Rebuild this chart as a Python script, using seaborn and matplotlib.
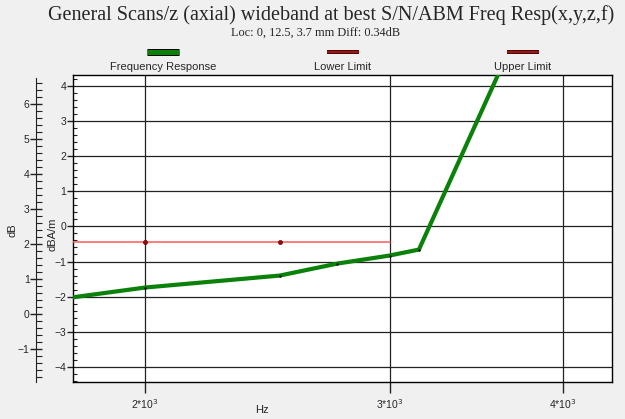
import matplotlib
matplotlib.use("Agg")
import matplotlib.pyplot as plt
import matplotlib.patheffects as pe
from matplotlib.lines import Line2D
from matplotlib.ticker import FixedLocator, FixedFormatter, MultipleLocator, NullLocator
import pandas as pd
import seaborn as sns

# frequency response (dBA/m)
freq_hz = [1750, 2000, 2500, 2750, 3000, 3150, 3600]
response_dba = [-2.05, -1.74, -1.40, -1.06, -0.83, -0.66, 4.40]

# lower limit line, markers only on the first two points
limit_freq_hz = [1750, 2000, 2500, 3000]
lower_limit_dba = [-0.45, -0.45, -0.45, -0.45]
limit_marker_freq = [2000, 2500]

x_ticks = [2000, 3000, 4000]
x_tick_labels = ["2*10$^3$", "3*10$^3$", "4*10$^3$"]
legend_names = ["Frequency Response", "Lower Limit", "Upper Limit"]

resp = pd.DataFrame({"Hz": freq_hz, "dBA/m": response_dba})
lower = pd.DataFrame({"Hz": limit_freq_hz, "dBA/m": lower_limit_dba})

sns.set_style("white")
plt.rcParams["font.family"] = ["Liberation Sans", "DejaVu Sans"]

fig = plt.figure(figsize=(6.25, 4.19), dpi=100, facecolor="#f0f0f0")
ax = fig.add_axes([73 / 625, 1 - 382 / 419, (612 - 73) / 625, (382 - 75) / 419])
ax.set_facecolor("white")

sns.lineplot(data=lower, x="Hz", y="dBA/m", ax=ax, color="#ff5a5a", linewidth=1.1, zorder=3)
sns.scatterplot(data=lower[lower["Hz"].isin(limit_marker_freq)], x="Hz", y="dBA/m", ax=ax,
                color="#b00000", edgecolor="black", s=10, zorder=4)
sns.lineplot(data=resp, x="Hz", y="dBA/m", ax=ax, color="#0a820a", linewidth=3.0, zorder=5)
sns.scatterplot(data=resp.iloc[1:-1], x="Hz", y="dBA/m", ax=ax, color="black", s=3,
                linewidth=0, zorder=6)

ax.set_xscale("log")
ax.set_xlim(1774, 4340)
ax.set_ylim(-4.43, 4.31)

ax.xaxis.set_major_locator(FixedLocator(x_ticks))
ax.xaxis.set_major_formatter(FixedFormatter(x_tick_labels))
ax.xaxis.set_minor_locator(NullLocator())
ax.yaxis.set_major_locator(MultipleLocator(1))
ax.yaxis.set_minor_locator(MultipleLocator(0.2))

ax.grid(True, which="major", color="#222222", linewidth=0.9)
ax.tick_params(axis="x", which="major", direction="out", length=8, width=1, bottom=True,
               labelsize=7.5, pad=3, color="#222222")
ax.tick_params(axis="y", which="major", direction="out", length=4, width=1, left=True,
               labelsize=7.5, pad=1, color="#222222")
ax.tick_params(axis="y", which="minor", direction="in", length=3, width=0.8,
               left=True, color="#222222")
for s in ax.spines.values():
    s.set_color("black")
    s.set_linewidth(1)

ax.set_xlabel("Hz", fontsize=8)
ax.xaxis.set_label_coords((262 - 73) / 539, -0.075)
ax.set_ylabel("dBA/m", fontsize=8)
ax.yaxis.set_label_coords(-(73 - 58) / 539, 0.48)

# outer dB axis
ax2 = fig.add_axes([36 / 625, 1 - 382 / 419, 0.0001, (382 - 78) / 419])
ax2.patch.set_alpha(0)
for k in ["top", "right", "bottom"]:
    ax2.spines[k].set_visible(False)
ax2.spines["left"].set_color("#222222")
ax2.set_ylim(-1.93, 6.73)
ax2.set_xticks([])
ax2.yaxis.set_major_locator(MultipleLocator(1))
ax2.yaxis.set_minor_locator(MultipleLocator(0.2))
ax2.tick_params(axis="y", which="major", direction="inout", length=9, width=1, left=True,
                labelsize=7.5, pad=0, color="#222222")
ax2.tick_params(axis="y", which="minor", direction="in", length=4, width=0.8, left=True,
                color="#222222")
ax2.set_ylabel("dB", fontsize=8)
ax2.yaxis.set_label_coords(-18 / 0.0001 / 625, 0.5)

# titles
fig.text(331 / 625, 1 - 15 / 419, "General Scans/z (axial) wideband at best S/N/ABM Freq Resp(x,y,z,f)",
         ha="center", va="center", fontsize=14.5, family=["Liberation Serif", "DejaVu Serif"])
fig.text(316 / 625, 1 - 33 / 419, "Loc: 0, 12.5, 3.7 mm Diff: 0.34dB",
         ha="center", va="center", fontsize=8.8, family=["Liberation Serif", "DejaVu Serif"])

# legend with handle above the text
legend_styles = [("#0a820a", 3.6), ("#e00000", 1.3), ("#e00000", 1.3)]
for i, (name, (col, lw)) in enumerate(zip(legend_names, legend_styles)):
    cx = (163 + 180 * i) / 625
    fig.add_artist(Line2D([cx - 16 / 625, cx + 16 / 625], [1 - 52 / 419] * 2, color=col,
                          linewidth=lw, solid_capstyle="butt",
                          path_effects=[pe.Stroke(linewidth=lw + 1.4, foreground="black"), pe.Normal()]))
    fig.text(cx, 1 - 67 / 419, name, ha="center", va="center", fontsize=8)

fig.savefig("out.png", dpi=100, facecolor=fig.get_facecolor())
